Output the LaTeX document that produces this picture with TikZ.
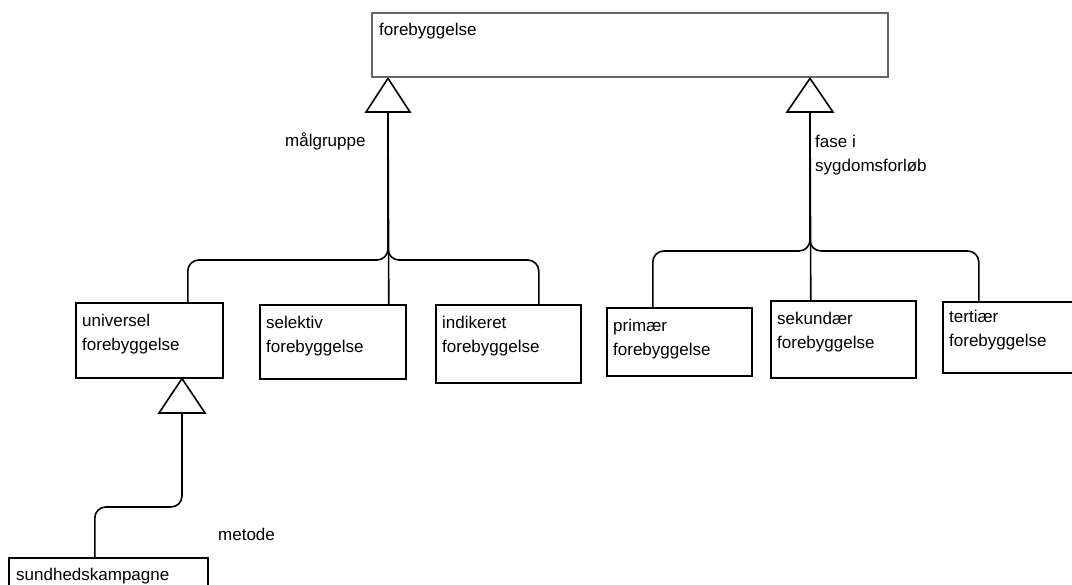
\documentclass[tikz,border=0pt]{standalone}
\usepackage{fontspec}
\setmainfont{Liberation Sans}
\begin{document}
\begin{tikzpicture}[x=1pt,y=-1pt,
  box/.style={draw=black, line width=1.6pt, fill=white, inner sep=0pt, anchor=north west},
  topbox/.style={draw=black!60, line width=2.4pt, fill=white, inner sep=0pt, anchor=north west},
  txt/.style={inner sep=0pt, align=left, font=\fontsize{17}{23.5}\selectfont},
  conn/.style={draw=black, line width=1.6pt, rounded corners=11pt},
  tri/.style={draw=black, line width=1.6pt, fill=white, line join=miter}]
\useasboundingbox (0,0) rectangle (1072,585);
% top
\node[topbox, minimum width=516pt, minimum height=64pt] (fore) at (371,12) {};
\node[txt, anchor=base west] (foret) at (379,36) {forebyggelse};
% left children
\node[box, minimum width=147pt, minimum height=75pt] (u) at (75,302) {};
\node[txt, anchor=base west] (ut) at (82,350.5) {universel\\forebyggelse};
\node[box, minimum width=146pt, minimum height=74pt] (s) at (259,304) {};
\node[txt, anchor=base west] (st) at (266,352.5) {selektiv\\forebyggelse};
\node[box, minimum width=145pt, minimum height=78pt] (i) at (435,304) {};
\node[txt, anchor=base west] (it) at (442,352.5) {indikeret\\forebyggelse};
% right children
\node[box, minimum width=145pt, minimum height=68pt] (p) at (606,307) {};
\node[txt, anchor=base west] (pt) at (613,355.5) {primær\\forebyggelse};
\node[box, minimum width=145pt, minimum height=77pt] (sk) at (770,300) {};
\node[txt, anchor=base west] (skt) at (777,348.5) {sekundær\\forebyggelse};
\node[box, minimum width=148pt, minimum height=71pt] (t) at (942,301) {};
\node[txt, anchor=base west] (tt) at (949,346.5) {tertiær\\forebyggelse};
% bottom
\node[box, minimum width=199pt, minimum height=45pt] (sh) at (8,557) {};
\node[txt, anchor=base west] (sht) at (16,580) {sundhedskampagne};
% triangle base coordinates
\coordinate (t1b) at (388,112);
\coordinate (t2b) at (810,112);
\coordinate (t3b) at (182,413);
% connectors
\draw[conn] ([xshift=38.5pt]u.north) -- ++(0,-42) -| (t1b);
\draw[conn] ([xshift=56pt]s.north) -- (t1b);
\draw[conn] ([xshift=30.5pt]i.north) -- ++(0,-44) -| (t1b);
\draw[conn] ([xshift=-26.5pt]p.north) -- ++(0,-56) -| (t2b);
\draw[conn] ([xshift=-32.5pt]sk.north) -- (t2b);
\draw[conn] ([xshift=-38pt]t.north) -- ++(0,-50) -| (t2b);
\draw[conn] ([xshift=-13.5pt]sh.north) -- ++(0,-50) -| (t3b);
% triangles
\draw[tri] ([xshift=-22pt]t1b) -- (t1b |- fore.south) -- ([xshift=22pt]t1b) -- cycle;
\draw[tri] ([xshift=-23pt]t2b) -- (t2b |- fore.south) -- ([xshift=23pt]t2b) -- cycle;
\draw[tri] ([xshift=-23pt]t3b) -- (t3b |- u.south) -- ([xshift=23pt]t3b) -- cycle;
% labels
\node[txt, anchor=base west] (lm) at (285,147) {målgruppe};
\node[txt, anchor=base west] (lf) at (815,171.5) {fase i\\sygdomsforløb};
\node[txt, anchor=base west] (lme) at (218,540) {metode};
\end{tikzpicture}
\end{document}
